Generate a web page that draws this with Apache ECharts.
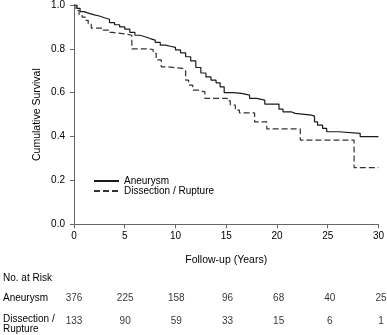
<!DOCTYPE html>
<html>
<head>
<meta charset="utf-8">
<script src="https://cdn.jsdelivr.net/npm/echarts@6/dist/echarts.min.js"></script>
<style>
  html, body { margin: 0; padding: 0; background: #fff; }
  #main { width: 387px; height: 335px; }
</style>
</head>
<body>
<div id="main"></div>
<script>
// Kaplan-Meier steps: [years, survival]
var aneurysmSteps = [
  [0, 1.0], [0.3, 0.985], [0.6, 0.97], [1.0, 0.962], [1.5, 0.955], [2.0, 0.95],
  [2.5, 0.942], [3.0, 0.935], [3.5, 0.92], [4.0, 0.91], [4.5, 0.9], [5.0, 0.89],
  [5.5, 0.875], [6.0, 0.862], [6.5, 0.855], [7.0, 0.847], [7.5, 0.84], [8.0, 0.83],
  [8.5, 0.817], [9.0, 0.812], [9.5, 0.807], [10.0, 0.795], [10.5, 0.782], [11.0, 0.764],
  [11.5, 0.745], [12.0, 0.715], [12.5, 0.69], [13.0, 0.672], [13.5, 0.657], [14.0, 0.645],
  [14.4, 0.627], [14.8, 0.6], [15.7, 0.597], [16.5, 0.589], [17.3, 0.574], [18.0, 0.566],
  [18.8, 0.548], [20.2, 0.525], [20.6, 0.513], [21.4, 0.506], [21.8, 0.498], [23.4, 0.493],
  [23.7, 0.467], [24.0, 0.452], [24.5, 0.437], [24.9, 0.422], [26.1, 0.415], [28.2, 0.4],
  [30, 0.4]
];
var dissectionSteps = [
  [0, 1.0], [0.2, 0.975], [0.5, 0.955], [0.8, 0.945], [1.1, 0.93], [1.4, 0.915],
  [1.7, 0.895], [2.8, 0.885], [3.5, 0.875], [3.8, 0.866], [5.3, 0.862], [5.7, 0.8],
  [7.3, 0.797], [7.8, 0.78], [8.1, 0.75], [8.6, 0.718], [9.2, 0.711], [10.7, 0.703],
  [11.0, 0.657], [11.3, 0.635], [11.7, 0.612], [12.2, 0.604], [12.9, 0.574], [15.1, 0.563],
  [15.4, 0.544], [15.9, 0.521], [16.3, 0.508], [17.8, 0.467], [19.0, 0.435], [22.3, 0.384],
  [27.6, 0.258], [30, 0.258]
];

var riskYears = [0, 5, 10, 15, 20, 25, 30];
var riskRows = ["Aneurysm", "Dissection /\nRupture"];
var riskAneurysm = [376, 225, 158, 96, 68, 40, 25];
var riskDissection = [133, 90, 59, 33, 15, 6, 1];

var fontName = "Liberation Sans, Arial, sans-serif";
var axisGray = "#666";

var riskData = [];
for (var i = 0; i < riskYears.length; i++) {
  riskData.push([riskYears[i], 0, riskAneurysm[i]]);
  riskData.push([riskYears[i], 1, riskDissection[i]]);
}

var myChart = echarts.init(document.getElementById("main"));
myChart.setOption({
  animation: false,
  textStyle: { fontFamily: fontName },
  grid: [
    { left: 74, right: 6, top: 4.5, bottom: 110.7 },
    { left: 74, right: 6, top: 287, height: 45 }
  ],
  legend: {
    orient: "vertical",
    left: 93,
    top: 176,
    padding: 0,
    itemWidth: 25,
    itemHeight: 10,
    itemGap: 0,
    itemStyle: { opacity: 0 },
    textStyle: { fontSize: 10, color: "#000", lineHeight: 10, fontFamily: fontName },
    data: ["Aneurysm", "Dissection / Rupture"]
  },
  graphic: [
    {
      type: "text",
      left: 3,
      top: 273,
      style: { text: "No. at Risk", fontSize: 10, fill: "#000", fontFamily: fontName }
    }
  ],
  xAxis: [
    {
      type: "value",
      gridIndex: 0,
      min: 0,
      max: 30,
      interval: 5,
      name: "Follow-up (Years)",
      nameLocation: "middle",
      nameGap: 30,
      nameTextStyle: { fontSize: 10.5, color: "#000" },
      axisLine: { show: true, lineStyle: { color: axisGray, width: 1 } },
      axisTick: { show: true, length: 4, lineStyle: { color: axisGray } },
      axisLabel: { fontSize: 10, color: "#000", margin: 7 },
      splitLine: { show: false }
    },
    {
      type: "value",
      gridIndex: 1,
      min: 0,
      max: 30,
      show: false
    }
  ],
  yAxis: [
    {
      type: "value",
      gridIndex: 0,
      min: 0,
      max: 1,
      interval: 0.2,
      name: "Cumulative Survival",
      nameLocation: "middle",
      nameGap: 31,
      nameMoveOverlap: false,
      nameTextStyle: { fontSize: 10.5, color: "#000" },
      axisLine: { show: true, lineStyle: { color: axisGray, width: 1 } },
      axisTick: { show: true, length: 4, lineStyle: { color: axisGray } },
      axisLabel: {
        fontSize: 10,
        color: "#000",
        margin: 9,
        formatter: function (v) { return v.toFixed(1); }
      },
      splitLine: { show: false }
    },
    {
      type: "category",
      gridIndex: 1,
      inverse: true,
      data: riskRows,
      axisLine: { show: false },
      axisTick: { show: false },
      axisLabel: {
        align: "left",
        margin: 71,
        fontSize: 10,
        lineHeight: 10,
        color: "#000",
        // two-line row label sits a little lower than its numbers: pad with a short blank line
        formatter: function (v, idx) {
          if (idx !== 1) return v;
          var parts = v.split("\n");
          return "{s| }\n{b|" + parts[0] + "}\n{b|" + parts[1] + "}";
        },
        rich: {
          s: { fontSize: 4, lineHeight: 6 },
          b: { fontSize: 10, lineHeight: 10 }
        }
      }
    }
  ],
  series: [
    {
      name: "Aneurysm",
      type: "line",
      step: "end",
      xAxisIndex: 0,
      yAxisIndex: 0,
      symbol: "none",
      data: aneurysmSteps,
      lineStyle: { color: "#1a1a1a", width: 1.2 },
      itemStyle: { color: "#1a1a1a" }
    },
    {
      name: "Dissection / Rupture",
      type: "line",
      step: "end",
      xAxisIndex: 0,
      yAxisIndex: 0,
      symbol: "none",
      data: dissectionSteps,
      lineStyle: { color: "#333", width: 1.2, type: [6, 3] },
      itemStyle: { color: "#333" }
    },
    {
      type: "scatter",
      xAxisIndex: 1,
      yAxisIndex: 1,
      symbolSize: 1,
      itemStyle: { color: "rgba(0,0,0,0)" },
      silent: true,
      data: riskData,
      label: {
        show: true,
        position: "inside",
        fontSize: 10,
        color: "#000",
        formatter: function (p) { return String(p.value[2]); }
      }
    }
  ]
});
</script>
</body>
</html>
